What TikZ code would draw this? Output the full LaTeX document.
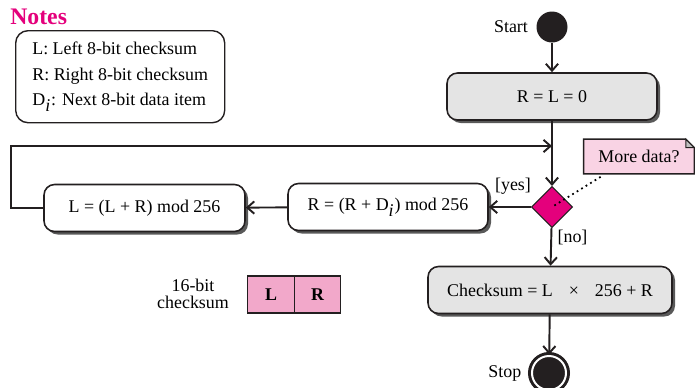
\documentclass[tikz,border=0pt]{standalone}
\usepackage{fontspec}
\setmainfont{Liberation Serif}
\usepackage{tikz}
\usetikzlibrary{positioning,shapes.geometric,shadows,arrows.meta}
\definecolor{cmag}{HTML}{E4007C}
\definecolor{cnote}{HTML}{F9D3E4}
\definecolor{cbits}{HTML}{F2A8CA}
\definecolor{cgray}{HTML}{E4E4E4}
\definecolor{cline}{HTML}{231F20}

\begin{document}
\begin{tikzpicture}[
  actbox/.style={draw=cline,line width=0.9pt,rounded corners=6pt,
    minimum height=0.94cm,font=\fontsize{10.2}{12}\selectfont,
    drop shadow={shadow xshift=0.06cm,shadow yshift=-0.06cm,fill=black!65,opacity=1}},
  flow/.style={draw=cline,line width=1.1pt,-{Straight Barb[length=4pt,width=7pt]}},
  lbl/.style={font=\fontsize{10.2}{12}\selectfont},
  bitbox/.style={draw=cline,line width=0.8pt,fill=cbits,outer sep=0pt,
    minimum width=0.93cm,minimum height=0.74cm,font=\fontsize{10.2}{12}\selectfont\bfseries}]
  \useasboundingbox (0,0) rectangle (13.9,-7.76);

  % notes
  \node[anchor=west,text=cmag,font=\fontsize{13.5}{15}\selectfont\bfseries,inner sep=0.05cm] (title) at (0.15,-0.34) {Notes};
  \node[draw=cline,line width=0.8pt,rounded corners=7pt,anchor=north west,
    minimum width=4.18cm,minimum height=1.84cm,align=left,inner sep=0.16cm,
    font=\fontsize{10.2}{14.7}\selectfont] (notes) at (0.3,-0.6)
    {L: Left 8-bit checksum\\R: Right 8-bit checksum\\D$_{\textit{i}}$: Next 8-bit data item};

  % flow
  \node[circle,fill=cline,minimum size=0.62cm,inner sep=0] (start) at (11.04,-0.54) {};
  \node[lbl,left=0.04cm of start] (startlbl) {Start};
  \node[actbox,fill=cgray,minimum width=4.2cm] (init) at (11.04,-1.93) {R = L = 0};
  \coordinate (merge) at (11.04,-2.92);
  \node[diamond,aspect=1,fill=cmag,draw=cline,line width=0.6pt,
    minimum size=0.82cm,inner sep=0] (dec) at (11.04,-4.14) {};
  \node[actbox,fill=white,minimum width=4.0cm] (rbox) at (7.76,-4.14) {R = (R + D$_{\textit{i}}$) mod 256};
  \node[actbox,fill=white,minimum width=4.02cm] (lbox) at (2.89,-4.16) {L = (L + R) mod 256};
  \node[actbox,fill=cgray,minimum width=4.88cm] (csum) at (11.0,-5.8)
    {Checksum = L\hspace{0.32cm}×\hspace{0.32cm}256 + R};
  \node[circle,fill=cline,draw=cline,double=white,double distance=0.04cm,
    line width=0.06cm,minimum size=0.68cm,inner sep=0] (stop) at (10.98,-7.46) {};
  \node[lbl,left=0.06cm of stop] (stoplbl) {Stop};
  \node[lbl] (yes) at (10.26,-3.72) {[yes]};
  \node[lbl] (no) at (11.45,-4.74) {[no]};

  % comment note
  \node[lbl,minimum width=2.2cm,minimum height=0.68cm] (more) at (12.78,-3.13) {};
  \fill[cnote,draw=cline,line width=0.8pt] (more.south west) -- (more.north west)
    -- ([xshift=-0.17cm]more.north east) -- ([yshift=-0.17cm]more.north east)
    -- (more.south east) -- cycle;
  \filldraw[fill=black!25,draw=cline,line width=0.6pt] ([xshift=-0.17cm]more.north east)
    -- ([xshift=-0.17cm,yshift=-0.17cm]more.north east) -- ([yshift=-0.17cm]more.north east) -- cycle;
  \node[lbl] at (more) {More data?};
  \draw[dotted,line width=1pt] ([xshift=0.34cm,yshift=-0.06cm]more.south west) -- (dec.center);

  % connectors
  \draw[flow] (start) -- (init);
  \draw[line width=1.1pt,draw=cline] (init) -- (merge);
  \draw[flow] (merge) -- (dec);
  \draw[flow] (dec) -- (rbox);
  \draw[flow] (rbox) -- (lbox);
  \draw[flow] (lbox.west) -- ++(-0.64,0) |- (merge);
  \draw[flow] (dec) -- (csum);
  \draw[flow] (csum) -- (stop);

  % checksum layout
  \node[font=\fontsize{10.2}{9.6}\selectfont,align=center] (bits) at (3.86,-5.88) {16-bit\\checksum};
  \node[bitbox] (lbit) at (5.42,-5.89) {L};
  \node[bitbox,right=0pt of lbit] (rbit) {R};
\end{tikzpicture}
\end{document}
